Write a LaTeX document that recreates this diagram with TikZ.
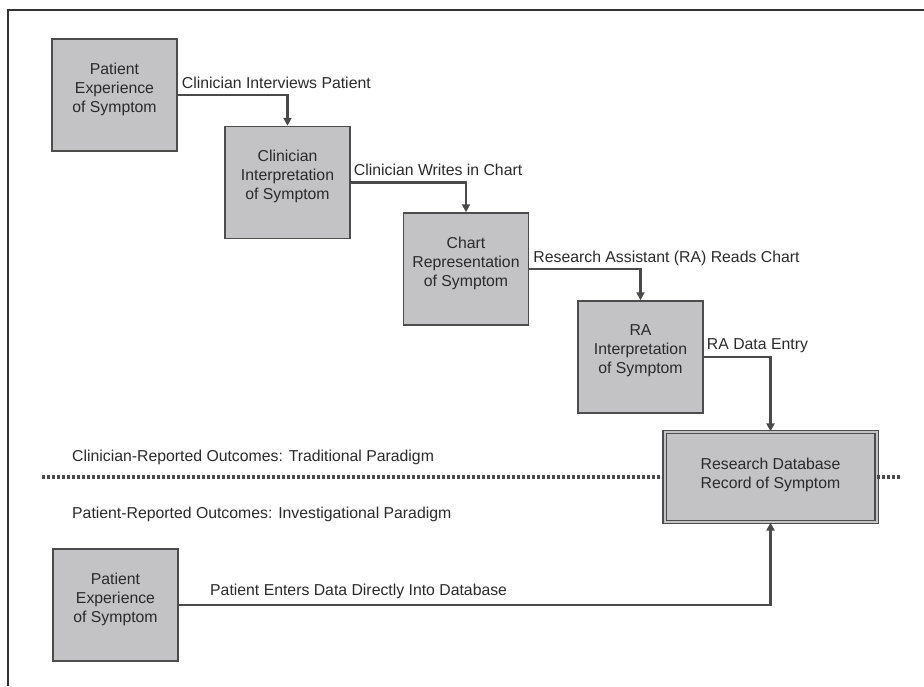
\documentclass[tikz,border=0pt]{standalone}
\usepackage{fontspec}
\setmainfont{Liberation Sans}
\usetikzlibrary{arrows.meta,calc}
\definecolor{boxfill}{HTML}{C3C3C5}
\definecolor{boxline}{HTML}{4C4C4C}
\definecolor{txt}{HTML}{2A2A2A}
\definecolor{conn}{HTML}{4A4A4A}
\tikzset{
  box/.style={draw=boxline, fill=boxfill, line width=1.5pt, minimum width=125pt, minimum height=112pt, inner sep=0pt},
  boxtxt/.style={align=center, text=txt, font=\fontsize{15.8pt}{19pt}\selectfont, inner sep=0pt},
  lbl/.style={anchor=base west, text=txt, font=\fontsize{15.8pt}{19pt}\selectfont, inner sep=0pt},
  conn/.style={draw=conn, line width=2.2pt, -{Triangle[width=8pt,length=8pt]}},
  sep/.style={draw=conn, line width=3.8pt, dash pattern=on 3pt off 2pt},
  dbbox/.style={draw=boxline, fill=boxfill, line width=1.2pt, double=boxfill, double distance=2pt, minimum width=212pt, minimum height=90pt, inner sep=0pt}
}
\begin{document}
\begin{tikzpicture}[x=1pt,y=-1pt]
\useasboundingbox (0,0) rectangle (924,686);
% frame
\draw[line width=2pt, draw=black!80] (8,686) -- (8,10) -- (924,10);
% boxes
\node[box] (b1) at (114.5,95) {};
\node[boxtxt] (b1t) at ([yshift=6pt]b1.center) {Patient\\Experience\\of Symptom};
\node[box] (b2) at (287.5,182.5) {};
\node[boxtxt] (b2t) at ([yshift=6pt]b2.center) {Clinician\\Interpretation\\of Symptom};
\node[box] (b3) at (466,269) {};
\node[boxtxt] (b3t) at ([yshift=6pt]b3.center) {Chart\\Representation\\of Symptom};
\node[box] (b4) at (640.5,357) {};
\node[boxtxt] (b4t) at ([yshift=6pt]b4.center) {RA\\Interpretation\\of Symptom};
\node[box] (b5) at (115.5,605) {};
\node[boxtxt] (b5t) at ([yshift=6pt]b5.center) {Patient\\Experience\\of Symptom};
\node[dbbox] (db) at (770.5,477) {};
\node[boxtxt] (dbt) at ([yshift=2pt]db.center) {Research Database\\Record of Symptom};
% separator
\coordinate (sl) at (42,477);
\coordinate (sr) at (902,477);
\draw[sep] (sl) -- (db.west);
\draw[sep] (db.east) -- (sr);
\node[lbl] (cro) at (72,461) {Clinician-Reported Outcomes: Traditional Paradigm};
\node[lbl] (pro) at (72,518) {Patient-Reported Outcomes: Investigational Paradigm};
% connectors
\draw[conn] (b1.east) -| (b2.north);
\draw[conn] (b2.east) -| (b3.north);
\draw[conn] (b3.east) -| (b4.north);
\draw[conn] (b4.east) -| (db.north);
\draw[conn] (b5.east) -| (db.south);
% labels
\node[lbl] (l1) at ([shift={(4,-7)}]b1.east) {Clinician Interviews Patient};
\node[lbl] (l2) at ([shift={(3,-7)}]b2.east) {Clinician Writes in Chart};
\node[lbl] (l3) at ([shift={(4,-7)}]b3.east) {Research Assistant (RA) Reads Chart};
\node[lbl] (l4) at ([shift={(3,-8)}]b4.east) {RA Data Entry};
\node[lbl] (l5) at (210,595) {Patient Enters Data Directly Into Database};
\end{tikzpicture}
\end{document}
